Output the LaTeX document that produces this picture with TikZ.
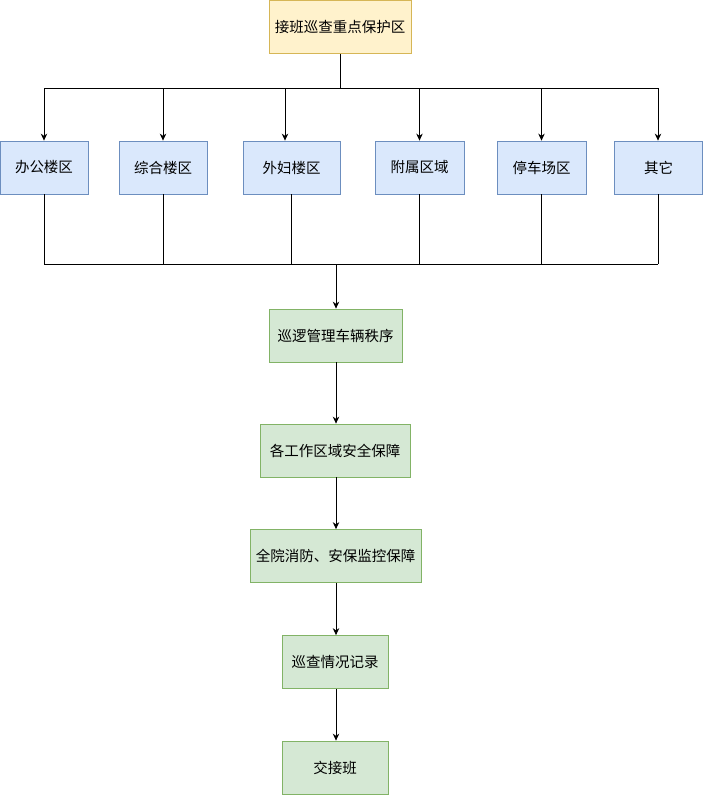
\documentclass[tikz,border=0pt]{standalone}
\usepackage{fontspec}
\setmainfont{Noto Sans CJK SC}
\usetikzlibrary{arrows.meta}
\begin{document}
\begin{tikzpicture}[x=1pt,y=-1pt,
  box/.style={draw, line width=0.8pt, minimum height=53pt, inner sep=0pt, font=\fontsize{14.5pt}{16pt}\selectfont, text=black},
  conn/.style={line width=0.8pt, black},
  arr/.style={conn, -{Stealth[length=7pt,width=6.5pt]}}]
\definecolor{yf}{HTML}{FFF2CC}\definecolor{yd}{HTML}{D6B656}
\definecolor{bf}{HTML}{DAE8FC}\definecolor{bd}{HTML}{6C8EBF}
\definecolor{gf}{HTML}{D5E8D4}\definecolor{gd}{HTML}{82B366}
\useasboundingbox (0,0) rectangle (703,795);
\tikzset{ybox/.style={box, fill=yf, draw=yd}, bbox/.style={box, fill=bf, draw=bd}, gbox/.style={box, fill=gf, draw=gd}}
\node[ybox, minimum width=142pt] (top) at (340,27) {接班巡查重点保护区};
\node[bbox, minimum width=88pt] (b1) at (44,167.5) {办公楼区};
\node[bbox, minimum width=88pt] (b2) at (163,167.5) {综合楼区};
\node[bbox, minimum width=97pt] (b3) at (291.5,167.5) {外妇楼区};
\node[bbox, minimum width=89pt] (b4) at (419.5,167.5) {附属区域};
\node[bbox, minimum width=89pt] (b5) at (541.5,167.5) {停车场区};
\node[bbox, minimum width=88pt] (b6) at (658.5,167.5) {其它};
\node[gbox, minimum width=133pt] (g1) at (335.5,335.5) {巡逻管理车辆秩序};
\node[gbox, minimum width=150pt] (g2) at (335,450.5) {各工作区域安全保障};
\node[gbox, minimum width=171pt] (g3) at (335.5,556) {全院消防、安保监控保障};
\node[gbox, minimum width=106pt] (g4) at (335,662) {巡查情况记录};
\node[gbox, minimum width=106pt] (g5) at (335,767.5) {交接班};
% top bus
\coordinate (tj) at (340,88);
\coordinate (tl) at (44,88);
\coordinate (tr) at (658,88);
\coordinate (t3) at (285,88);
\draw[conn] (top.south) -- (tj);
\draw[conn] (tl) -- (tr);
\draw[arr] (tl) -- (b1.north);
\draw[arr] (b2.north |- tl) -- (b2.north);
\draw[arr] (t3) -- (t3 |- b3.north);
\draw[arr] (b4.north |- tl) -- (b4.north);
\draw[arr] (b5.north |- tl) -- (b5.north);
\draw[arr] (tr) -- (tr |- b6.north);
% bottom bus
\coordinate (bl) at (44,264);
\coordinate (br) at (658,264);
\coordinate (bj) at (336,264);
\draw[conn] (b1.south) -- (b1.south |- bl);
\draw[conn] (b2.south) -- (b2.south |- bl);
\draw[conn] (b3.south) -- (b3.south |- bl);
\draw[conn] (b4.south) -- (b4.south |- bl);
\draw[conn] (b5.south) -- (b5.south |- bl);
\draw[conn] (br |- b6.south) -- (br);
\draw[conn] (bl) -- (br);
\draw[arr] (bj) -- (bj |- g1.north);
\draw[arr] (bj |- g1.south) -- (bj |- g2.north);
\draw[arr] (bj |- g2.south) -- (bj |- g3.north);
\draw[arr] (bj |- g3.south) -- (bj |- g4.north);
\draw[arr] (bj |- g4.south) -- (bj |- g5.north);
\end{tikzpicture}
\end{document}
